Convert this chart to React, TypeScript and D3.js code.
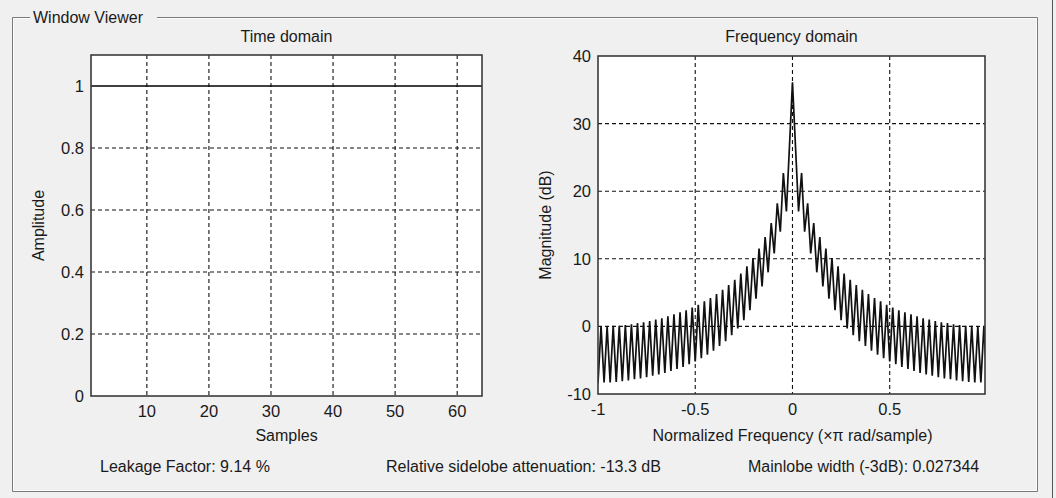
import React from "react";
import * as d3 from "d3";

// rectangular window, 64 samples
const timeAmplitude = [
  1, 1, 1, 1, 1, 1, 1, 1, 1, 1, 1, 1, 1, 1, 1, 1,
  1, 1, 1, 1, 1, 1, 1, 1, 1, 1, 1, 1, 1, 1, 1, 1,
  1, 1, 1, 1, 1, 1, 1, 1, 1, 1, 1, 1, 1, 1, 1, 1,
  1, 1, 1, 1, 1, 1, 1, 1, 1, 1, 1, 1, 1, 1, 1, 1,
];
const timeTicks = [10, 20, 30, 40, 50, 60];
const ampTicks = [0, 0.2, 0.4, 0.6, 0.8, 1];

// spectrum (dB); symmetric about 0
const windowLength = 64;
const mainlobePeak = 36.1;
// sidelobe peaks, lobe 1..31 going out from 0
const sidelobePeaks = [
  22.7, 18.2, 15.3, 13.2, 11.5, 10.1, 8.9, 7.8, 6.9, 6.1, 5.4, 4.8, 4.2, 3.7, 3.2, 2.8,
  2.4, 2.1, 1.8, 1.5, 1.2, 1.0, 0.8, 0.6, 0.5, 0.3, 0.2, 0.1, 0.1, 0.0, 0.0,
];
// dips between lobes, 1..32 going out from 0
const sidelobeDips = [
  17.0, 14.0, 10.8, 8.0, 5.9, 4.1, 2.4, 0.9, -0.3, -1.3, -2.2, -2.9, -3.6, -4.2, -4.7, -5.2,
  -5.6, -6.0, -6.3, -6.6, -6.9, -7.1, -7.3, -7.5, -7.7, -7.8, -8.0, -8.1, -8.2, -8.3, -8.3, -8.4,
];
const freqTicks = [-1, -0.5, 0, 0.5];
const dbTicks = [-10, 0, 10, 20, 30, 40];

const stats = [
  { text: "Leakage Factor: 9.14 %", x: 100 },
  { text: "Relative sidelobe attenuation: -13.3 dB", x: 386 },
  { text: "Mainlobe width (-3dB): 0.027344", x: 748 },
];

const W = 1056;
const H = 498;
const FONT = "'Liberation Sans', Arial, sans-serif";
const TXT = "#1a1a1a";

const L = { x0: 91, x1: 482, y0: 55, y1: 396 };
const R = { x0: 598, x1: 985, y0: 56, y1: 394 };

const App = () => {
  const xT = d3.scaleLinear().domain([1, 64]).range([L.x0, L.x1]);
  const yT = d3.scaleLinear().domain([0, 1.1]).range([L.y1, L.y0]);
  const xF = d3.scaleLinear().domain([-1, 0.99]).range([R.x0, R.x1]);
  const yF = d3.scaleLinear().domain([-10, 40]).range([R.y1, R.y0]);

  const timePts: [number, number][] = timeAmplitude.map((v, i) => [i + 1, v]);
  const timeLine = d3.line<[number, number]>().x((d) => xT(d[0])).y((d) => yT(d[1]));

  // null spacing of a length-N rectangular window is 2/N (x pi rad/sample)
  const step = 2 / windowLength;
  const right: [number, number][] = [[0, mainlobePeak]];
  sidelobeDips.forEach((dip, k) => {
    right.push([(k + 1) * step, dip]);
    if (k < sidelobePeaks.length) right.push([(k + 1.5) * step, sidelobePeaks[k]]);
  });
  const left: [number, number][] = right.slice(1).map(([f, v]) => [-f, v] as [number, number]).reverse();
  const specPts = left.concat(right);
  const specLine = d3.line<[number, number]>().x((d) => xF(d[0])).y((d) => yF(d[1]));

  const tickText = { fontFamily: FONT, fontSize: 16.5, fill: TXT };
  const labelText = { fontFamily: FONT, fontSize: 16, fill: TXT };
  const grid = { stroke: "#111", strokeDasharray: "4,3", strokeWidth: 1.1 };

  return (
    <svg width={W} height={H} style={{ position: "absolute", left: 0, top: 0, background: "#f0f0f0" }}>
      <defs>
        <clipPath id="clipF">
          <rect x={R.x0} y={R.y0} width={R.x1 - R.x0} height={R.y1 - R.y0} />
        </clipPath>
      </defs>
      <rect width={W} height={H} fill="#f0f0f0" />
      {/* outer window edge */}
      <line x1={1052.5} x2={1052.5} y1={0} y2={H} stroke="#555" />
      {/* group box */}
      <path d={`M30,17.5 H12.5 V491.5 H1037.5 V17.5 H157`} fill="none" stroke="#7a7a7a" />
      <path d={`M30,18.5 H13.5 V490.5 H1036.5 V18.5 H157`} fill="none" stroke="#ffffff" opacity={0.8} />
      <text x={33} y={23} style={labelText}>
        Window Viewer
      </text>

      {/* time domain */}
      <rect x={L.x0} y={L.y0} width={L.x1 - L.x0} height={L.y1 - L.y0} fill="#fff" />
      {timeTicks.map((t) => (
        <line key={"gx" + t} x1={xT(t)} x2={xT(t)} y1={L.y0} y2={L.y1} {...grid} />
      ))}
      {ampTicks.filter((t) => t > 0 && t < 1).map((t) => (
        <line key={"gy" + t} x1={L.x0} x2={L.x1} y1={yT(t)} y2={yT(t)} {...grid} />
      ))}
      <path d={timeLine(timePts) || ""} fill="none" stroke="#000" strokeWidth={1.4} />
      <rect x={L.x0} y={L.y0} width={L.x1 - L.x0} height={L.y1 - L.y0} fill="none" stroke="#3a3a3a" strokeWidth={1.6} />
      {timeTicks.map((t) => (
        <text key={"tx" + t} x={xT(t)} y={L.y1 + 21} textAnchor="middle" style={tickText}>
          {t}
        </text>
      ))}
      {ampTicks.map((t) => (
        <text key={"ty" + t} x={L.x0 - 7} y={yT(t) + 6} textAnchor="end" style={tickText}>
          {t}
        </text>
      ))}
      <text x={(L.x0 + L.x1) / 2} y={42} textAnchor="middle" style={labelText}>
        Time domain
      </text>
      <text x={(L.x0 + L.x1) / 2} y={441} textAnchor="middle" style={labelText}>
        Samples
      </text>
      <text transform={`translate(44,${(L.y0 + L.y1) / 2}) rotate(-90)`} textAnchor="middle" style={labelText}>
        Amplitude
      </text>

      {/* frequency domain */}
      <rect x={R.x0} y={R.y0} width={R.x1 - R.x0} height={R.y1 - R.y0} fill="#fff" />
      {freqTicks.filter((t) => t > -1).map((t) => (
        <line key={"fx" + t} x1={xF(t)} x2={xF(t)} y1={R.y0} y2={R.y1} {...grid} />
      ))}
      {dbTicks.filter((t) => t > -10 && t < 40).map((t) => (
        <line key={"fy" + t} x1={R.x0} x2={R.x1} y1={yF(t)} y2={yF(t)} {...grid} />
      ))}
      <path d={specLine(specPts) || ""} fill="none" stroke="#111" strokeWidth={1.7} clipPath="url(#clipF)" />
      <rect x={R.x0} y={R.y0} width={R.x1 - R.x0} height={R.y1 - R.y0} fill="none" stroke="#3a3a3a" strokeWidth={1.6} />
      {freqTicks.map((t) => (
        <text key={"tfx" + t} x={xF(t)} y={R.y1 + 21} textAnchor="middle" style={tickText}>
          {t}
        </text>
      ))}
      {dbTicks.map((t) => (
        <text key={"tfy" + t} x={R.x0 - 7} y={yF(t) + 6} textAnchor="end" style={tickText}>
          {t}
        </text>
      ))}
      <text x={(R.x0 + R.x1) / 2} y={42} textAnchor="middle" style={labelText}>
        Frequency domain
      </text>
      <text x={xF(0)} y={441} textAnchor="middle" style={labelText}>
        Normalized Frequency  (×π rad/sample)
      </text>
      <text transform={`translate(551,${(R.y0 + R.y1) / 2}) rotate(-90)`} textAnchor="middle" style={labelText}>
        Magnitude (dB)
      </text>

      {stats.map((s) => (
        <text key={s.text} x={s.x} y={472} style={labelText}>
          {s.text}
        </text>
      ))}
    </svg>
  );
};

export default App;
